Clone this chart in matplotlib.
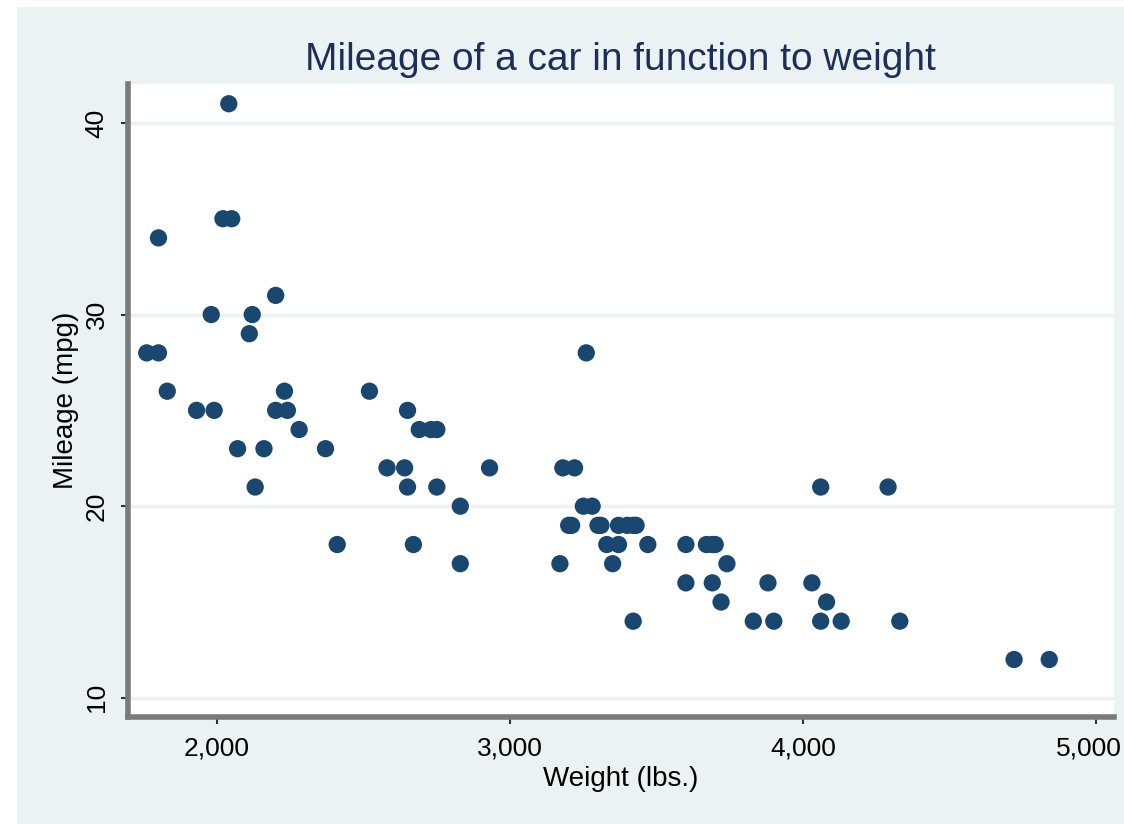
import matplotlib
matplotlib.use("Agg")
import matplotlib.pyplot as plt
import matplotlib.transforms as mtransforms
from matplotlib.patches import Rectangle
from matplotlib.ticker import FuncFormatter

# auto dataset: weight (lbs.) and mileage (mpg)
weight = [2930, 3350, 2640, 3250, 4080, 3670, 2230, 3280, 3880, 3400,
          4330, 3900, 4290, 2110, 3690, 3180, 3220, 2750, 3430, 2120,
          3600, 3600, 3740, 1800, 2650, 4840, 4720, 3830, 2580, 4060,
          3720, 3370, 4130, 2830, 4060, 3310, 3300, 3690, 3370, 2730,
          4030, 3260, 1800, 2200, 2520, 3330, 3700, 3470, 3210, 3200,
          3420, 2690, 2830, 2070, 2650, 2370, 2020, 2280, 2750, 2130,
          2240, 1760, 1980, 3420, 1830, 2050, 2410, 2200, 2670, 2160,
          2040, 1930, 1990, 3170]
mpg = [22, 17, 22, 20, 15, 18, 26, 20, 16, 19,
       14, 14, 21, 29, 16, 22, 22, 24, 19, 30,
       18, 16, 17, 28, 21, 12, 12, 14, 22, 14,
       15, 18, 14, 20, 21, 19, 19, 18, 19, 24,
       16, 28, 34, 25, 26, 18, 18, 18, 19, 19,
       19, 24, 17, 23, 25, 23, 35, 24, 21, 21,
       25, 28, 30, 14, 26, 35, 18, 31, 18, 23,
       41, 25, 25, 17]

x_ticks = [2000, 3000, 4000, 5000]
y_ticks = [10, 20, 30, 40]

BG = "#eaf2f3"
NAVY = "#1a476f"

plt.rcParams["font.family"] = ["Liberation Sans", "DejaVu Sans"]

fig = plt.figure(figsize=(11.24, 8.24), dpi=100)
fig.patch.set_facecolor("white")
fig.patches.append(Rectangle((17 / 1124, 0), 1, 1 - 7 / 824, transform=fig.transFigure,
                             facecolor=BG, edgecolor="none", zorder=-10))

ax = fig.add_axes([128 / 1124, 107 / 824, 986 / 1124, 633 / 824])
ax.set_facecolor("white")

ax.scatter(weight, mpg, s=155, color=NAVY, edgecolors="none", zorder=3)

ax.set_xlim(1696, 5061)
ax.set_ylim(9.0, 42.03)
ax.set_xticks(x_ticks)
ax.set_yticks(y_ticks)
ax.xaxis.set_major_formatter(FuncFormatter(lambda v, p: f"{int(v):,}"))

ax.grid(axis="y", color=BG, linewidth=2.5, zorder=1)
ax.set_axisbelow(True)

for side in ["top", "right"]:
    ax.spines[side].set_visible(False)
for side in ["left", "bottom"]:
    ax.spines[side].set_color("#7a7a7a")
    ax.spines[side].set_linewidth(4)

ax.tick_params(axis="both", length=5, width=1.5, color="#333333", labelsize=19, pad=9)
for lab in ax.get_yticklabels():
    lab.set_rotation(90)
    lab.set_va("center")

# nudge the last x label so it stays inside the figure
last = ax.get_xticklabels()[-1]
last.set_transform(last.get_transform() +
                   mtransforms.ScaledTranslation(-7 / 100, 0, fig.dpi_scale_trans))

ax.set_xlabel("Weight (lbs.)", fontsize=20, labelpad=4)
ax.set_ylabel("Mileage (mpg)", fontsize=20, labelpad=4)
fig.text(0.552, 1 - 60 / 824, "Mileage of a car in function to weight",
         ha="center", va="center", fontsize=28, color="#1c2e5a")

fig.savefig("out.png", dpi=100, facecolor=fig.get_facecolor())
